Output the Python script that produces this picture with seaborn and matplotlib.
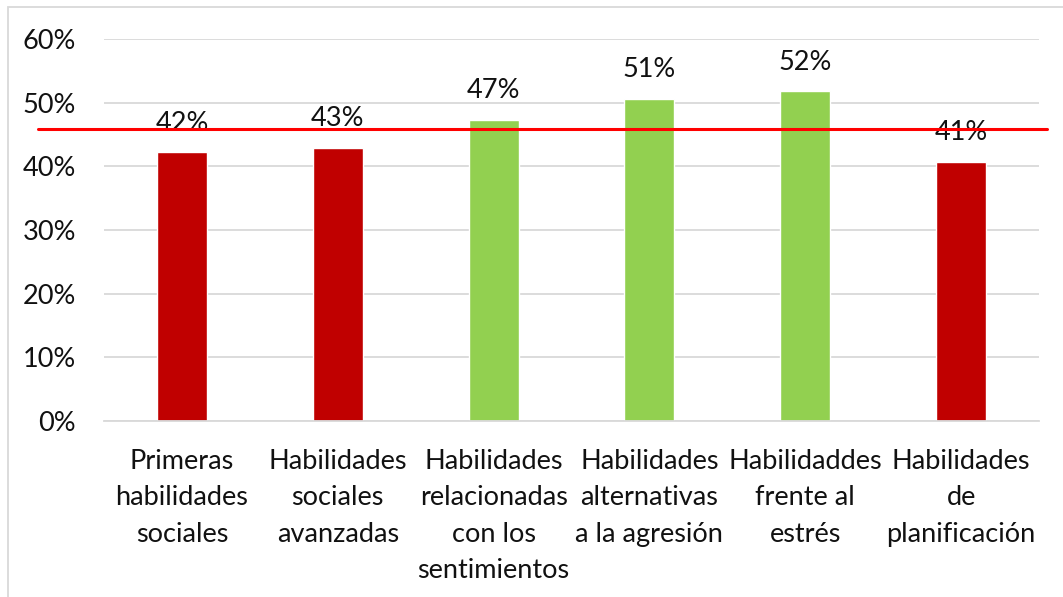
import matplotlib
matplotlib.use("Agg")
import matplotlib.pyplot as plt
import matplotlib.patches as mpatches
from matplotlib.ticker import PercentFormatter, MultipleLocator
import seaborn as sns

categorias = ["Primeras\nhabilidades\nsociales",
              "Habilidades\nsociales\navanzadas",
              "Habilidades\nrelacionadas\ncon los\nsentimientos",
              "Habilidades\nalternativas\na la agresión",
              "Habilidaddes\nfrente al\nestrés",
              "Habilidades\nde\nplanificación"]
valores = [0.422, 0.429, 0.473, 0.506, 0.518, 0.407]
colores = ["#C00000", "#C00000", "#92D050", "#92D050", "#92D050", "#C00000"]
promedio = 0.458

sns.set_theme(style="white")
plt.rcParams['font.family'] = ['Lato', 'DejaVu Sans']

fig = plt.figure(figsize=(10.63, 5.97), dpi=100)
ax = fig.add_axes([104/1063, 1 - 421/597, 935/1063, 382/597])

sns.barplot(x=categorias, y=valores, hue=categorias, palette=colores,
            legend=False, width=0.32, saturation=1, ax=ax)

ax.set_ylim(0, 0.6)
ax.set_xlim(-0.5, 5.5)
ax.yaxis.set_major_locator(MultipleLocator(0.1))
ax.yaxis.set_major_formatter(PercentFormatter(1.0, decimals=0))
ax.grid(axis="y", color="#D9D9D9", linewidth=1.3)
ax.set_axisbelow(True)
for s in ["top", "right", "left"]:
    ax.spines[s].set_visible(False)
ax.spines["bottom"].set_color("#D9D9D9")
ax.spines["bottom"].set_linewidth(1.3)

ax.tick_params(axis="y", length=0, pad=20, labelsize=19.5, labelcolor="#111111")
ax.tick_params(axis="x", length=0, pad=20, labelsize=19.5, labelcolor="#111111")
for lbl in ax.get_xticklabels():
    lbl.set_linespacing(1.57)
    lbl.set_verticalalignment("top")

for i, v in enumerate(valores):
    ax.annotate(f"{v:.0%}", (i, v), xytext=(0, 12), textcoords="offset points",
                ha="center", va="bottom", fontsize=19.5, color="#111111")

ax.axhline(promedio, xmin=(38 - 104) / 935, xmax=(1047 - 104) / 935,
           color="#FF0000", linewidth=2.2, clip_on=False, zorder=5)

fig.patches.append(mpatches.Rectangle((8/1063, -0.1), 1.1, 1 - 7/597 + 0.1,
                                      transform=fig.transFigure, fill=False,
                                      edgecolor="#D9D9D9", linewidth=1.3))

ax.set_xlabel("")
ax.set_ylabel("")
fig.savefig("out.png", dpi=100)
